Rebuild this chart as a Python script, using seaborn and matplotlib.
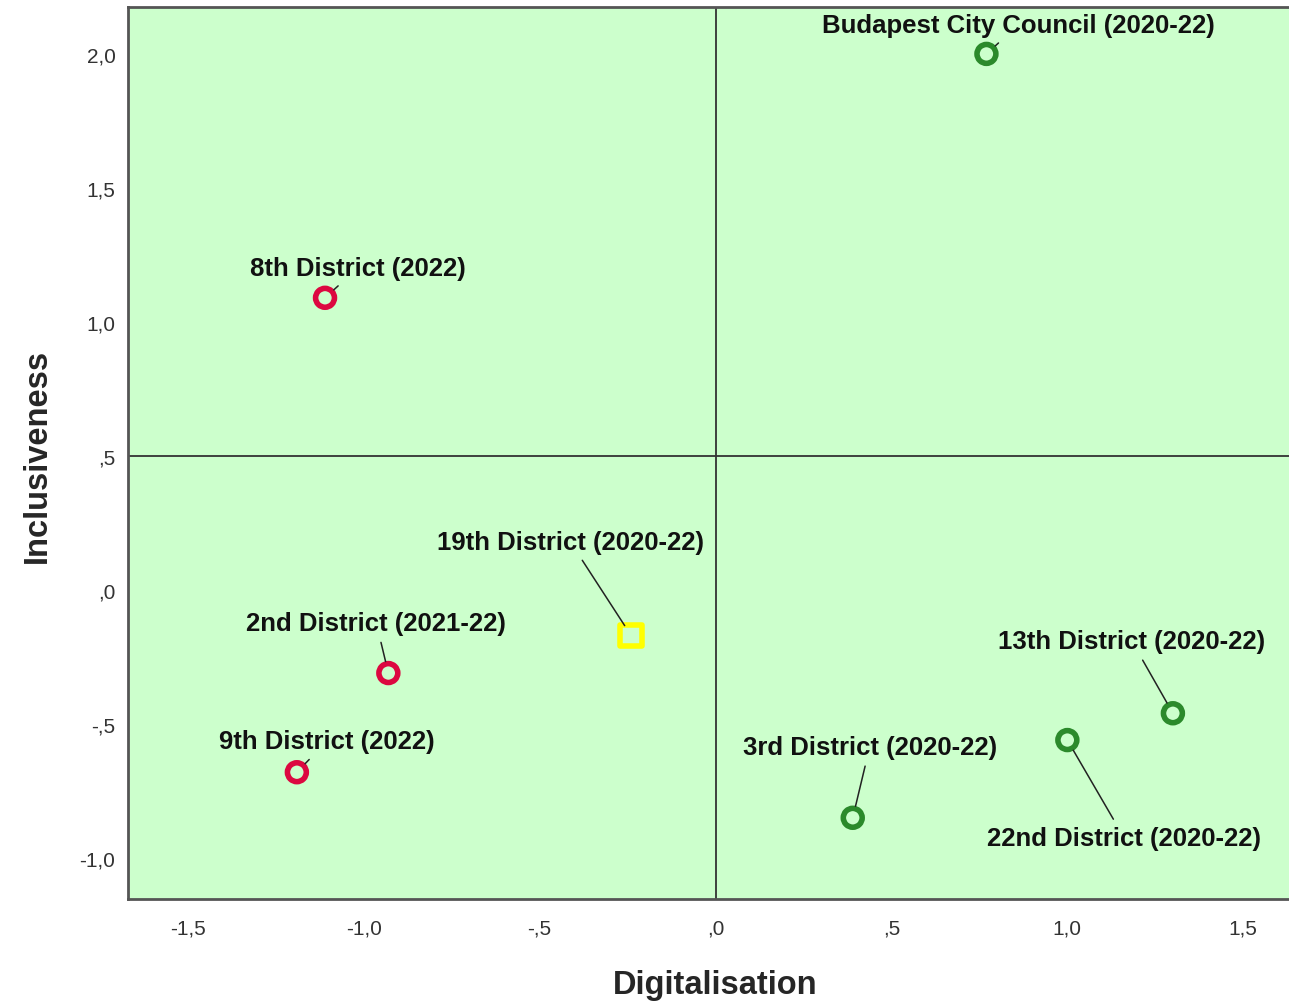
import matplotlib
matplotlib.use("Agg")
import matplotlib.pyplot as plt
import seaborn as sns
import pandas as pd

# data
names = ["Budapest City Council (2020-22)", "8th District (2022)", "19th District (2020-22)",
         "2nd District (2021-22)", "9th District (2022)", "3rd District (2020-22)",
         "22nd District (2020-22)", "13th District (2020-22)"]
digitalisation = [0.77, -1.11, -0.24, -0.93, -1.19, 0.39, 1.00, 1.30]
inclusiveness = [2.00, 1.09, -0.17, -0.31, -0.68, -0.85, -0.56, -0.46]
group = ["high", "low", "mid", "low", "low", "high", "high", "high"]

x_ticks = [-1.5, -1.0, -0.5, 0.0, 0.5, 1.0, 1.5]
x_ticklabels = ["-1,5", "-1,0", "-,5", ",0", ",5", "1,0", "1,5"]
y_ticks = [-1.0, -0.5, 0.0, 0.5, 1.0, 1.5, 2.0]
y_ticklabels = ["-1,0", "-,5", ",0", ",5", "1,0", "1,5", "2,0"]

# label offsets from each point (pixels, y up)
label_offsets = [(32, 29), (33, 30), (-61, 94), (-12, 50), (30, 31), (17, 71), (57, -98), (-41, 72)]

colors = {"high": "#2b8a2b", "low": "#dc0840", "mid": "#ffff00"}
markers = {"high": "o", "low": "o", "mid": "s"}
sizes = {"high": 185, "low": 185, "mid": 235}

df = pd.DataFrame({"name": names, "x": digitalisation, "y": inclusiveness, "group": group})

sns.set_style("white")
plt.rcParams["font.family"] = ["Liberation Sans", "DejaVu Sans"]

fig = plt.figure(figsize=(12.89, 10.03), dpi=100)
ax = fig.add_axes([128 / 1289, 1 - 900 / 1003, 1 - 128 / 1289, 892 / 1003])
ax.set_facecolor("#ccffcc")

ax.axvline(0, color="#333333", lw=1.3, zorder=1)
ax.axhline(0.5, color="#333333", lw=1.3, zorder=1)

for g, sub in df.groupby("group"):
    sns.scatterplot(data=sub, x="x", y="y", ax=ax, marker=markers[g], s=sizes[g],
                    facecolor="none", edgecolor=colors[g], linewidth=4.0, zorder=3)

for (nm, xv, yv), off in zip(zip(names, digitalisation, inclusiveness), label_offsets):
    ax.annotate(nm, xy=(xv, yv), xytext=off, textcoords="offset pixels",
                ha="center", va="center", fontsize=18.5, fontweight="bold", color="#111111",
                arrowprops=dict(arrowstyle="-", color="#222222", lw=1.1, shrinkA=-3, shrinkB=8.5))

ax.set_xlim(-1.67, 1.63)
ax.set_ylim(-1.153, 2.175)
ax.set_xticks(x_ticks)
ax.set_xticklabels(x_ticklabels)
ax.set_yticks(y_ticks)
ax.set_yticklabels(y_ticklabels)
ax.tick_params(length=0, labelsize=15, labelcolor="#333333")
ax.tick_params(axis="x", pad=14)
ax.tick_params(axis="y", pad=9)

for side in ["left", "bottom", "top"]:
    ax.spines[side].set_color("#555555")
    ax.spines[side].set_linewidth(2)
ax.spines["right"].set_visible(False)

ax.set_xlabel("Digitalisation", fontsize=23.5, fontweight="bold")
ax.set_ylabel("Inclusiveness", fontsize=23.5, fontweight="bold")
ax.xaxis.set_label_coords((715 - 128) / 1161, -0.078)
ax.yaxis.set_label_coords(-0.0646, 0.498)

fig.savefig("out.png", dpi=100)
